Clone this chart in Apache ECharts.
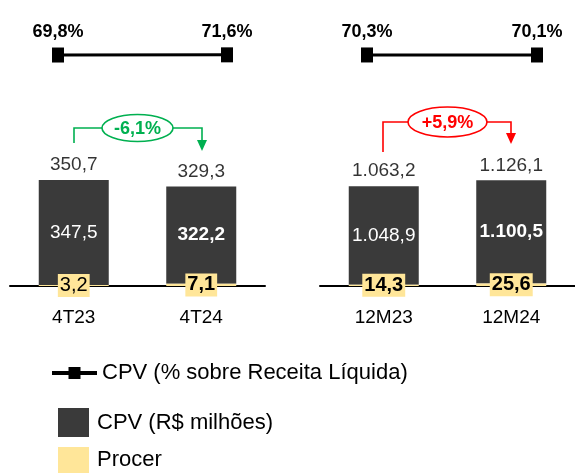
<!DOCTYPE html>
<html>
<head>
<meta charset="utf-8">
<script src="https://cdn.jsdelivr.net/npm/echarts@6/dist/echarts.min.js"></script>
<style>
html, body { margin: 0; padding: 0; background: #fff; }
#chart { width: 575px; height: 474px; }
</style>
</head>
<body>
<div id="chart"></div>
<script>
// dados
const quarters = ['4T23', '4T24']
const years = ['12M23', '12M24']
const cpvQuarter = [347.5, 322.2]
const procerQuarter = [3.2, 7.1]
const totalQuarter = [350.7, 329.3]
const cpvYear = [1048.9, 1100.5]
const procerYear = [14.3, 25.6]
const totalYear = [1063.2, 1126.1]
const pctQuarter = [69.8, 71.6]
const pctYear = [70.3, 70.1]
const changeQuarter = '-6,1%'
const changeYear = '+5,9%'

const FONT = "'Liberation Sans', Arial, sans-serif"
const DARK = '#3a3a3a'
const YELLOW = '#ffe699'
const GREEN = '#00b050'
const RED = '#ff0000'

function fmt(v) {
  const parts = v.toFixed(1).split('.')
  parts[0] = parts[0].replace(/\B(?=(\d{3})+(?!\d))/g, '.')
  return parts.join(',')
}

function items(arr, boldIdx) {
  return arr.map((v, i) => ({ value: v, label: { fontWeight: boldIdx.includes(i) ? 'bold' : 'normal' } }))
}

function barSeries(idx, cpv, procer, total, cpvBold, procerBold) {
  return [{
    name: 'Procer',
    type: 'bar',
    xAxisIndex: idx, yAxisIndex: idx,
    stack: 's' + idx,
    barWidth: 70,
    z: 4,
    itemStyle: { color: YELLOW },
    label: {
      show: true, position: 'inside', formatter: p => fmt(p.value),
      color: '#000', fontFamily: FONT, fontSize: 20,
      backgroundColor: YELLOW, padding: [2, 2, 1, 2]
    },
    data: items(procer, procerBold)
  }, {
    name: 'CPV (R$ milhões)',
    type: 'bar',
    xAxisIndex: idx, yAxisIndex: idx,
    stack: 's' + idx,
    barWidth: 70,
    itemStyle: { color: DARK },
    label: {
      show: true, position: 'inside', formatter: p => fmt(p.value),
      color: '#fff', fontFamily: FONT, fontSize: 19
    },
    data: items(cpv, cpvBold)
  }, {
    name: 'total',
    type: 'scatter',
    xAxisIndex: idx, yAxisIndex: idx,
    symbolSize: 1,
    itemStyle: { color: 'rgba(0,0,0,0)' },
    label: {
      show: true, position: 'top', distance: 5, formatter: p => fmt(p.value),
      color: '#000', fontFamily: FONT, fontSize: 19
    },
    data: total
  }]
}

function lineSeries(idx, pct) {
  return {
    name: 'CPV (% sobre Receita Líquida)',
    type: 'line',
    xAxisIndex: idx, yAxisIndex: idx,
    symbol: 'rect',
    symbolSize: [12, 15],
    lineStyle: { color: '#000', width: 3 },
    itemStyle: { color: '#000' },
    label: {
      show: true, position: 'top', distance: 6, formatter: p => fmt(p.value) + '%',
      color: '#000', fontFamily: FONT, fontSize: 18, fontWeight: 'bold'
    },
    data: pct
  }
}

function catAxis(idx, data, showAxis) {
  return {
    type: 'category', gridIndex: idx, data: data,
    boundaryGap: showAxis,
    show: showAxis,
    axisLine: { show: true, lineStyle: { color: '#000', width: 2 } },
    axisTick: { show: false },
    axisLabel: { color: '#000', fontFamily: FONT, fontSize: 19, margin: 22 }
  }
}

function valAxis(idx, max) {
  return { type: 'value', gridIndex: idx, min: 0, max: max, show: false }
}

function connector(x1, x2, yTop, y1, y2, cx, rx, ry, color, text) {
  const style = { stroke: color, lineWidth: 1.6, fill: null }
  return [{
    type: 'polyline', shape: { points: [[x1, y1], [x1, yTop], [cx - rx, yTop]] }, style: style
  }, {
    type: 'polyline', shape: { points: [[cx + rx, yTop], [x2, yTop], [x2, y2 - 10]] }, style: style
  }, {
    type: 'polygon', shape: { points: [[x2 - 5, y2 - 11], [x2 + 5, y2 - 11], [x2, y2]] }, style: { fill: color }
  }, {
    type: 'ellipse', shape: { cx: cx, cy: yTop, rx: rx, ry: ry }, style: { stroke: color, lineWidth: 1.6, fill: '#fff' }
  }, {
    type: 'text', x: cx, y: yTop + 1,
    style: { text: text, fill: color, font: 'bold 18px ' + FONT, align: 'center', verticalAlign: 'middle' }
  }]
}

function legendItem(name, left, top, w, h, icon, gap) {
  return {
    data: [name], left: left, top: top, padding: 0,
    itemWidth: w, itemHeight: h, icon: icon,
    lineStyle: { width: 4 },
    textStyle: { color: '#000', fontFamily: FONT, fontSize: 22, padding: [0, 0, 0, gap] }
  }
}

const chart = echarts.init(document.getElementById('chart'))
chart.setOption({
  animation: false,
  grid: [
    { left: 10, width: 255, top: 165, height: 121 },
    { left: 320, width: 255, top: 164, height: 122 },
    { left: 58, width: 169, top: 52, height: 10 },
    { left: 367, width: 170, top: 52, height: 10 }
  ],
  xAxis: [
    catAxis(0, quarters, true),
    catAxis(1, years, true),
    catAxis(2, quarters, false),
    catAxis(3, years, false)
  ],
  yAxis: [
    valAxis(0, 400),
    valAxis(1, 1300),
    valAxis(2, 100),
    valAxis(3, 100)
  ],
  legend: [
    legendItem('CPV (% sobre Receita Líquida)', 50, 362, 45, 15, undefined, 0),
    legendItem('CPV (R$ milhões)', 58, 408, 31, 29, 'rect', 3),
    legendItem('Procer', 58, 447, 31, 26, 'rect', 3)
  ],
  graphic: [
    ...connector(74, 202, 128, 143, 151, 137.5, 35.5, 13.5, GREEN, changeQuarter),
    ...connector(383, 511, 122, 152, 144, 447.5, 39.5, 15, RED, changeYear)
  ],
  series: [
    ...barSeries(0, cpvQuarter, procerQuarter, totalQuarter, [1], [1]),
    ...barSeries(1, cpvYear, procerYear, totalYear, [1], [0, 1]),
    lineSeries(2, pctQuarter),
    lineSeries(3, pctYear)
  ]
})
</script>
</body>
</html>
